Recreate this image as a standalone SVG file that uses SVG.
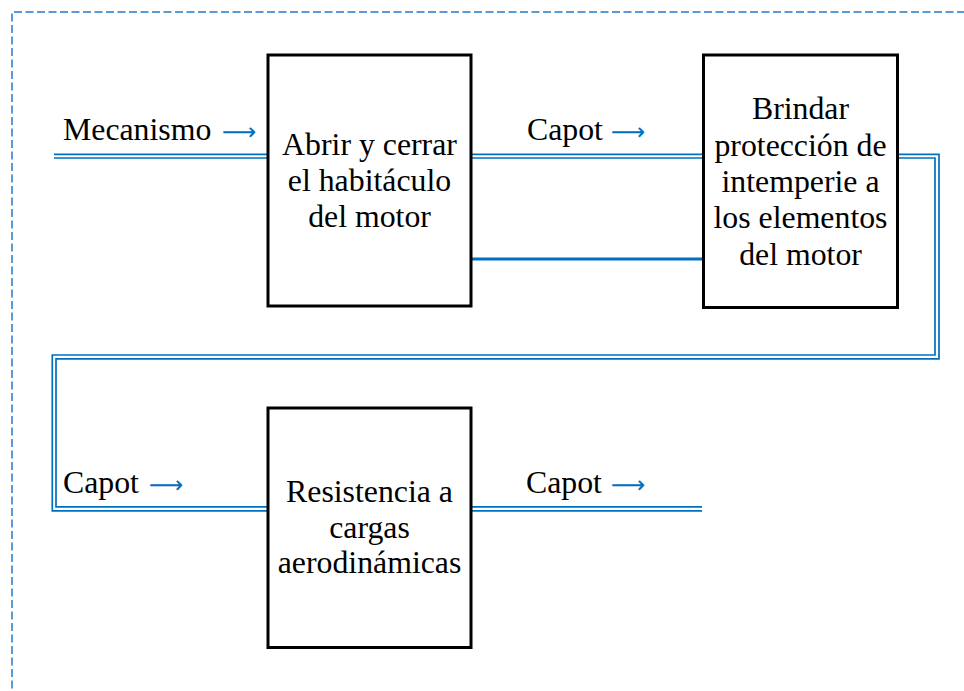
<svg xmlns="http://www.w3.org/2000/svg" width="964" height="691" viewBox="0 0 964 691">
<style>
.frame{fill:none;stroke:#5B9BD5;stroke-width:2;stroke-dasharray:8 3.5}
.box{fill:#fff;stroke:#000;stroke-width:3}
.ln{fill:none;stroke:#0070C0;stroke-width:1.7}
.thick{fill:none;stroke:#0070C0;stroke-width:3}
text{font-family:"Liberation Serif","Times New Roman",serif;font-size:31.8px;fill:#000}
.c{text-anchor:middle}
.arr{fill:#0070C0;font-family:"DejaVu Sans",sans-serif;font-size:24px}
</style>
<rect width="964" height="691" fill="#fff"/>
<path class="frame" d="M12,700 V12 H970"/>
<g id="connectors">
<path class="ln" d="M54,154.3 H268 M54,158 H268"/>
<path class="ln" d="M471,154.3 H703 M471,158 H703"/>
<path class="thick" d="M471,259 H703"/>
<path class="ln" d="M897,154.3 H939 V358.8 H56 V506.8 H268"/>
<path class="ln" d="M897,158 H935 V355 H52.3 V510.8 H268"/>
<path class="ln" d="M471,506.8 H702 M471,510.8 H702"/>
</g>
<g id="label-mecanismo"><text x="63" y="140">Mecanismo <tspan class="arr" x="222">⟶</tspan></text></g>
<g id="label-capot1"><text x="527" y="139.5">Capot <tspan class="arr" x="611">⟶</tspan></text></g>
<g id="label-capot2"><text x="63" y="493.3">Capot <tspan class="arr" x="149">⟶</tspan></text></g>
<g id="label-capot3"><text x="526" y="492.8">Capot <tspan class="arr" x="611">⟶</tspan></text></g>
<g id="node-abrir">
<rect class="box" x="268" y="55" width="203" height="251"/>
<text class="c" x="369.5" y="155">Abrir y cerrar</text>
<text class="c" x="369.5" y="191">el habitáculo</text>
<text class="c" x="369.5" y="227">del motor</text>
</g>
<g id="node-brindar">
<rect class="box" x="703.5" y="55" width="194" height="252.5"/>
<text class="c" x="800.5" y="119.3">Brindar</text>
<text class="c" x="800.5" y="155.7">protección de</text>
<text class="c" x="800.5" y="192">intemperie a</text>
<text class="c" x="800.5" y="228.4">los elementos</text>
<text class="c" x="800.5" y="264.8">del motor</text>
</g>
<g id="node-resistencia">
<rect class="box" x="268" y="408" width="203" height="239.5"/>
<text class="c" x="369.5" y="501.6">Resistencia a</text>
<text class="c" x="369.5" y="537.5">cargas</text>
<text class="c" x="369.5" y="573.4">aerodinámicas</text>
</g>
</svg>
